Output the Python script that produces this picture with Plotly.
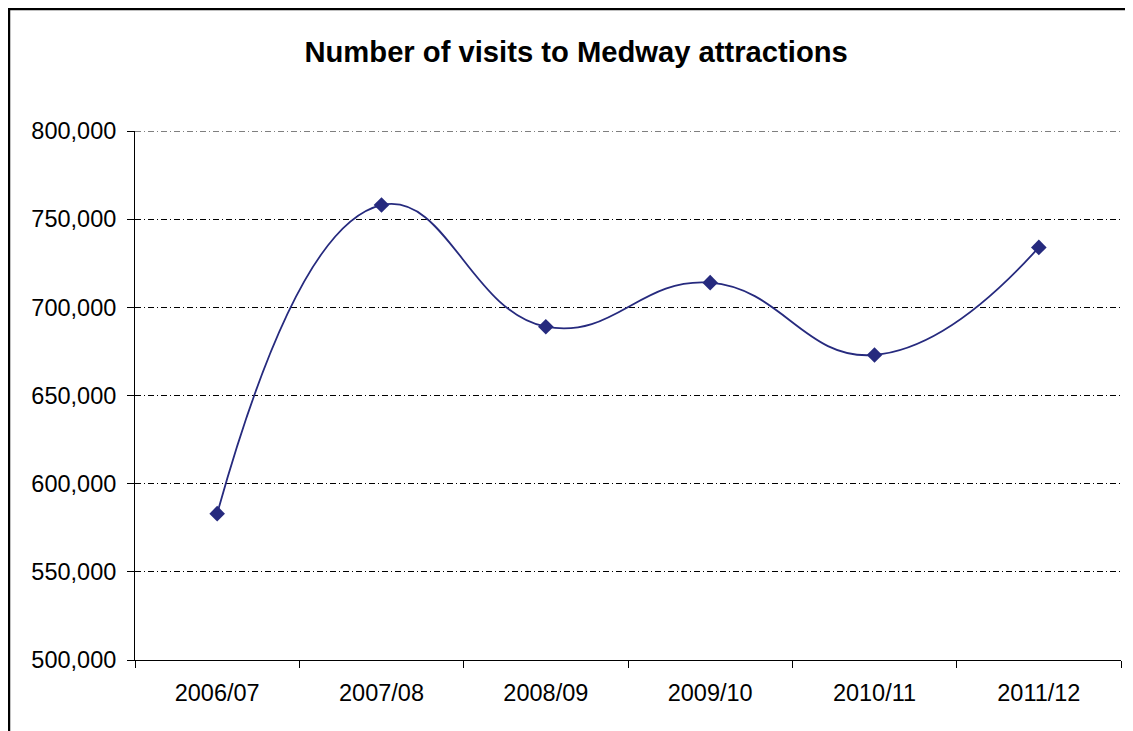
import plotly.graph_objects as go

# Besuchszahlen je Jahr
years = ["2006/07", "2007/08", "2008/09", "2009/10", "2010/11", "2011/12"]
visits = [583000, 758000, 689000, 714000, 673000, 734000]
y_ticks = [500000, 550000, 600000, 650000, 700000, 750000, 800000]

fig = go.Figure()
fig.add_trace(go.Scatter(x=years, y=visits, mode="lines+markers",
                         line=dict(color="#262A7E", width=1.8, shape="spline", smoothing=1.3),
                         marker=dict(symbol="diamond", size=12, color="#262A7E"),
                         showlegend=False))

# die Seite hat 8px Rand, daher ist die Figur etwas kleiner
fig.update_layout(
    width=1125, height=723,
    margin=dict(l=127, r=12, t=123, b=71),
    paper_bgcolor="white", plot_bgcolor="white",
    font=dict(family="Liberation Sans, Arial, sans-serif", size=23.5, color="black"),
    title=dict(text="<b>Number of visits to Medway attractions</b>", x=0.505, xanchor="center",
               y=0.939, yanchor="middle", font=dict(size=29.2)),
)
fig.update_xaxes(type="category", range=[-0.5, 5.5], tickson="boundaries",
                 ticks="outside", ticklen=7, tickcolor="black", ticklabelstandoff=12,
                 showline=True, linecolor="black", linewidth=1,
                 showgrid=False, zeroline=False)
fig.update_yaxes(range=[y_ticks[0], y_ticks[-1]], tickvals=y_ticks, tickformat=",",
                 ticks="outside", ticklen=7, tickcolor="black", ticklabelstandoff=6,
                 showline=True, linecolor="black", linewidth=1,
                 showgrid=True, gridcolor="black", gridwidth=1, griddash="6px,3px,1px,3px",
                 zeroline=False)

# oberste Gitterlinie wird von plotly am Rand weggelassen
fig.add_shape(type="line", xref="paper", yref="y", x0=0, x1=1, y0=y_ticks[-1], y1=y_ticks[-1],
              line=dict(color="black", width=1, dash="6px,3px,1px,3px"))

# Rahmen um das Diagramm (rechts und unten abgeschnitten)
fig.add_shape(type="rect", xref="paper", yref="paper",
              x0=-0.1278, x1=1.1, y0=-0.3, y1=1.2306,
              line=dict(color="black", width=2.5), layer="below")

fig.write_html("out.html")
